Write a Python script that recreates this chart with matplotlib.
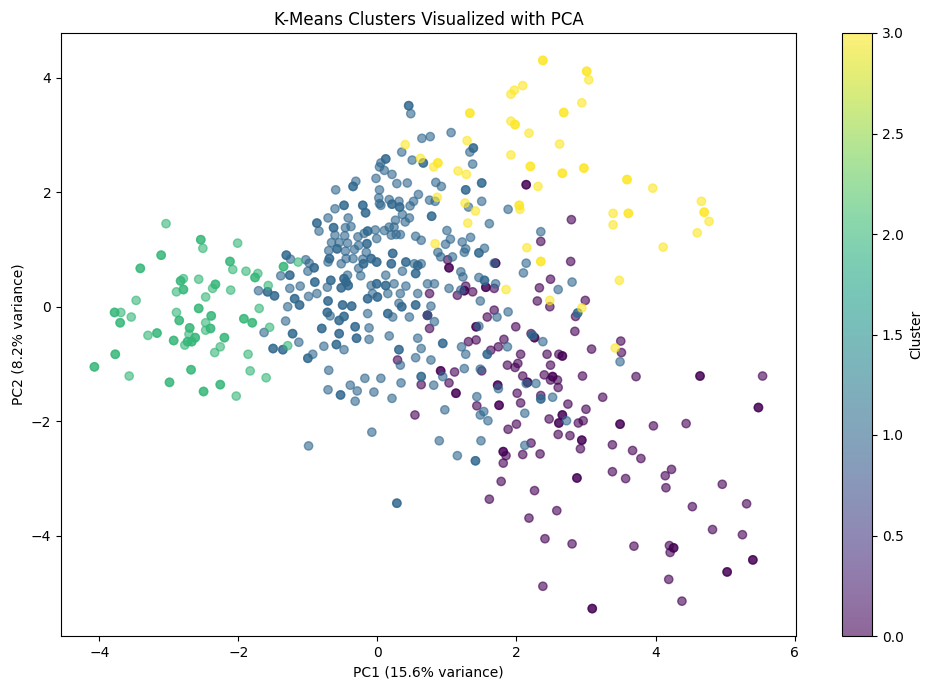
import numpy as np
import matplotlib
matplotlib.use("Agg")
import matplotlib.pyplot as plt

# (PC1, PC2, count) — count 2 = two points at (almost) the same spot
cluster0 = [
    (1.01,0.82,1),(1.03,0.68,2),(1.70,0.76,2),(1.56,0.34,2),(1.68,0.32,1),(1.27,0.36,1),(1.25,0.28,2),(1.37,0.26,1),
    (1.15,0.20,1),(1.68,-0.06,1),(1.58,-0.18,1),(1.42,-0.35,2),(1.42,-0.58,1),(1.31,-0.61,1),(1.63,-0.76,1),(1.74,-0.70,1),
    (1.82,-0.57,1),(1.87,-1.02,1),(0.75,0.23,1),(0.72,-0.15,2),(0.75,-0.38,1),(0.29,-0.93,1),(0.91,-1.12,2),(1.11,-1.14,1),
    (1.50,-1.12,1),(0.63,-1.36,1),(1.03,-1.33,1),(1.13,-1.51,2),(1.73,-1.37,2),
    (0.54,-1.89,1),(1.43,-1.73,1),(1.75,-1.72,2),(1.88,-2.14,1),(1.81,-2.53,2),(1.85,-2.60,1),(1.81,-2.73,1),(1.78,-3.05,1),(1.61,-3.36,1),
    (2.14,2.13,2),(2.79,1.52,1),(2.35,1.14,1),
    (2.78,0.79,1),(2.49,0.48,1),(2.33,0.33,1),(2.30,0.10,1),(2.48,0.00,1),(2.99,0.11,1),(2.85,-0.17,1),(1.99,-0.35,1),
    (2.84,-0.43,1),(2.21,-0.47,1),(2.26,-0.54,2),(3.50,-0.60,1),(3.51,-0.80,1),(3.08,-0.74,1),(2.06,-0.83,1),(2.44,-0.83,1),
    (2.61,-0.83,1),(2.66,-0.86,2),(2.49,-1.02,1),(2.02,-0.99,1),(1.98,-1.06,1),(2.09,-1.21,1),(2.40,-1.19,1),(2.52,-1.22,2),
    (2.49,-1.28,1),(2.59,-1.28,1),(2.95,-1.21,1),(3.72,-1.22,1),(2.16,-1.32,2),(2.60,-1.41,1),(2.01,-1.51,1),(2.35,-1.55,1),(3.24,-1.58,1),
    (2.06,-1.68,1),(2.74,-1.70,1),(3.00,-1.79,1),(2.00,-2.05,1),(2.47,-1.96,1),(2.66,-1.89,2),(2.61,-2.03,2),(2.60,-2.23,1),
    (2.77,-2.25,1),(2.89,-2.03,1),(2.96,-1.99,1),(3.49,-2.05,2),(3.97,-2.08,1),(2.94,-2.33,2),(2.92,-2.48,1),(2.21,-2.38,1),
    (2.09,-2.58,1),(2.34,-2.57,1),(3.38,-2.41,1),(3.67,-2.51,1),(3.79,-2.65,1),(2.87,-2.99,2),(3.38,-2.88,1),(3.57,-3.00,1),
    (2.26,-3.21,1),(2.58,-3.56,1),(2.18,-3.69,1),(2.41,-4.05,1),(2.80,-4.14,1),(3.69,-4.18,1),(2.38,-4.88,1),(3.09,-5.27,2),
    (4.64,-1.21,2),(5.54,-1.21,1),
    (5.48,-1.76,2),(4.44,-2.04,1),(4.23,-2.84,1),(4.14,-2.95,1),(4.15,-3.16,1),(4.96,-3.10,1),(4.53,-3.49,1),(5.31,-3.44,1),
    (4.82,-3.89,1),(5.25,-3.98,1),(4.20,-4.17,1),(4.26,-4.21,2),(4.21,-4.29,1),(5.40,-4.42,2),(5.03,-4.63,2),(4.19,-4.76,1),(4.38,-5.14,1),
]

cluster1 = [
    (-0.31,2.19,1),(-0.35,2.10,2),(-0.60,2.04,1),(0.03,2.44,1),(-0.02,2.24,1),(0.03,2.04,1),(0.02,1.90,1),(-0.48,1.77,2),
    (-0.21,1.77,2),(-0.17,1.64,2),(0.03,1.80,1),(-0.61,1.71,1),(-0.42,1.55,1),(-0.71,1.55,1),(-0.87,1.46,2),(-0.84,1.32,1),
    (-0.63,1.38,2),(-0.46,1.38,1),(-0.38,1.40,1),(-0.14,1.32,2),(-0.03,1.34,1),(-0.19,1.28,1),(-0.47,1.24,1),(-0.61,1.25,1),
    (-0.28,1.22,1),(-0.01,1.19,1),(-0.66,1.12,1),(-0.55,1.12,1),(-0.43,1.11,1),(-0.27,1.07,1),(-0.15,1.10,2),(-0.58,1.01,2),
    (-0.70,0.98,1),(-0.46,0.97,1),(-0.33,1.00,1),(-0.16,0.95,1),(-1.31,0.90,2),(-1.25,0.83,1),(-1.03,0.82,1),(-0.98,0.76,1),
    (-0.69,0.84,2),(-0.71,0.78,1),(-0.45,0.84,1),(-0.35,0.84,1),(-0.21,0.83,1),(-0.09,0.84,2),(-0.01,0.78,2),(-0.52,0.75,1),
    (-0.20,0.75,2),(-0.91,0.68,2),(-1.00,0.62,1),(-0.27,0.67,1),(-1.26,0.55,2),(-1.39,0.54,1),(-0.67,0.46,2),(-0.48,0.49,2),
    (-0.43,0.55,1),(-0.45,0.43,2),(-0.42,0.37,2),(-0.52,0.33,2),(-0.24,0.54,1),(-0.90,0.43,2),(-1.11,0.36,1),(-1.26,0.32,1),
    (-0.72,0.34,1),(-0.87,0.23,1),(-0.99,0.18,1),(-1.71,0.28,1),(-1.58,0.26,2),(-1.48,0.19,2),(-1.19,0.14,2),(-0.09,0.37,1),
    (-0.01,0.40,2),(-0.07,0.23,1),(-0.14,0.14,2),(0.00,0.17,2),
    (-1.29,0.00,1),(-1.12,0.03,2),(-0.71,0.10,2),(-0.50,0.03,2),(-0.37,0.01,2),(-0.72,-0.10,2),(-0.68,-0.16,1),(-0.55,-0.24,2),
    (-0.48,-0.17,2),(-0.14,-0.12,1),(-1.32,-0.25,1),(-1.63,-0.45,1),(-1.22,-0.47,2),(-0.80,-0.38,2),(-0.55,-0.47,2),(-0.32,-0.35,2),
    (-0.12,-0.37,1),(-0.30,-0.55,2),(-0.12,-0.57,1),(-1.50,-0.73,2),(-1.36,-0.75,2),(-1.13,-0.62,1),(-0.77,-0.69,1),(-0.59,-0.66,2),
    (-0.48,-0.75,1),(-1.00,-0.90,2),(-0.93,-0.83,1),(-0.70,-1.11,1),(-0.71,-1.45,1),(-0.53,-1.54,2),(-0.39,-1.37,1),(-0.29,-1.47,1),
    (-0.32,-1.65,1),(-0.18,-1.25,1),(-0.05,-1.49,1),(0.05,-1.25,1),(-0.08,-2.19,1),(-0.99,-2.43,1),
    (0.45,3.51,2),(0.48,3.37,1),(0.64,2.94,1),(0.76,2.97,1),(1.06,3.04,1),(1.38,2.77,2),(1.33,2.70,1),(0.35,2.70,1),
    (0.12,2.58,2),(0.50,2.56,1),(0.66,2.51,2),(1.37,2.49,1),(0.05,2.51,1),(0.10,2.38,1),(0.21,2.31,1),(0.28,2.15,1),
    (0.43,2.16,1),(0.84,2.17,1),(0.92,2.10,1),(1.27,2.04,2),(1.50,2.16,2),(0.59,1.96,1),(0.75,1.86,1),(0.83,1.84,1),
    (0.52,1.84,1),(0.47,1.76,1),(0.17,1.87,1),(0.21,1.79,2),(0.31,1.84,1),(0.32,1.74,2),(0.05,1.77,1),(1.31,1.74,1),
    (1.50,1.84,1),(1.88,1.70,1),(0.78,1.58,2),(0.36,1.61,1),(0.40,1.48,1),(0.46,1.55,1),(0.26,1.51,1),(0.17,1.39,1),
    (0.24,1.39,1),(0.10,1.33,1),(0.20,1.25,1),(0.27,1.26,1),(0.33,1.26,1),(1.61,1.45,1),(1.00,1.33,1),(1.05,1.18,1),
    (0.55,1.23,1),(0.63,1.16,1),(0.98,1.09,1),(1.22,1.13,1),(1.34,1.21,1),(1.27,1.01,1),(1.54,1.02,1),
    (0.22,0.93,2),(0.20,0.75,2),(0.41,0.78,2),(0.53,0.75,1),(0.58,0.72,2),(0.63,0.75,1),(0.55,0.58,2),(0.36,0.62,1),
    (0.87,0.95,1),(0.91,0.87,1),(1.08,0.87,1),(1.25,0.95,1),(1.46,0.94,2),(1.68,0.76,1),(1.20,0.61,1),(1.23,0.52,1),
    (1.46,0.51,1),(1.54,0.46,2),(1.70,0.40,1),(1.20,0.29,1),(1.03,0.32,1),(1.48,0.10,1),(1.88,-0.09,1),(1.72,-0.18,1),
    (1.46,-0.34,1),(1.21,-0.70,1),(1.27,-0.83,1),(1.58,-0.83,2),(1.87,-0.70,1),(0.12,0.55,1),(0.12,0.37,2),(0.15,0.23,1),
    (0.24,0.40,1),(0.33,0.23,1),(0.41,0.36,1),(0.58,0.23,1),(0.72,0.40,1),(0.82,0.40,1),(0.55,0.03,2),(0.35,0.00,2),
    (0.31,0.06,1),(0.15,-0.12,2),(0.22,-0.18,1),(0.46,-0.18,1),(0.77,0.01,1),(0.72,-0.15,1),(0.82,-0.26,1),(0.17,-0.51,1),
    (0.58,-0.55,1),(0.94,-0.64,2),(0.63,-0.73,1),(0.31,-0.75,2),(0.55,-0.89,1),(0.77,-0.93,1),(0.33,-1.02,1),(0.94,-1.22,1),
    (1.25,-1.08,1),(1.48,-1.09,1),(0.63,-1.22,2),(0.81,-1.37,1),(1.43,-1.57,1),(1.74,-1.43,1),(0.34,-1.33,1),(0.21,-1.60,1),
    (0.97,-1.80,1),(1.53,-1.83,1),(1.48,-1.89,1),(1.59,-1.99,1),(0.89,-2.34,1),(1.49,-2.34,1),(1.15,-2.60,1),(1.41,-2.69,2),
    (0.28,-3.43,2),
    (2.35,1.31,1),
    (2.14,0.76,1),(2.10,0.59,1),(2.80,0.43,1),(2.60,0.30,1),(2.88,-0.11,2),(2.23,-0.50,2),(2.38,-0.61,1),(3.49,-0.96,1),
    (2.14,-1.34,1),(2.28,-1.34,1),(2.35,-1.61,2),(2.52,-1.58,1),
    (2.12,-1.86,1),(2.72,-1.99,1),(2.12,-2.42,1),
]

cluster2 = [
    (-3.04,1.45,1),(-2.54,1.17,2),(-2.51,1.02,1),(-2.01,1.11,1),(-3.11,0.90,2),(-3.41,0.67,2),(-2.12,0.79,2),(-2.08,0.65,1),
    (-1.89,0.62,1),(-1.72,0.58,1),(-1.76,0.51,2),(-2.79,0.49,1),(-2.83,0.45,2),(-2.57,0.48,1),(-2.33,0.39,2),(-2.37,0.32,1),
    (-2.79,0.30,2),(-2.89,0.26,1),(-2.11,0.29,1),(-2.47,0.17,1),(-3.47,0.11,1),(-2.57,-0.03,2),(-3.78,-0.10,2),(-3.69,-0.10,1),
    (-2.89,-0.10,1),(-1.70,-0.03,1),(-2.39,-0.16,2),(-3.54,-0.18,1),(-2.85,-0.24,2),(-1.92,-0.21,2),(-1.80,-0.28,2),(-3.70,-0.28,2),
    (-2.70,-0.37,2),(-2.47,-0.28,1),(-2.40,-0.38,2),(-2.47,-0.41,1),(-3.17,-0.46,2),(-3.30,-0.50,1),(-2.71,-0.48,1),(-2.93,-0.59,2),
    (-2.62,-0.54,2),(-2.67,-0.61,2),(-2.73,-0.61,2),(-2.77,-0.67,1),(-2.20,-0.54,2),(-2.26,-0.70,1),(-2.34,-0.80,1),(-1.86,-0.83,1),
    (-3.77,-0.83,2),(-4.07,-1.05,2),(-3.57,-1.21,1),(-2.68,-1.10,2),(-1.83,-1.12,1),(-2.99,-1.32,2),(-2.50,-1.48,2),(-2.26,-1.36,2),
    (-2.03,-1.56,1),(-1.57,0.37,1),(-1.35,0.70,2),(-1.14,0.78,1),(-1.55,-0.36,1),(-1.29,-0.68,1),(-1.60,-1.24,1),
]

cluster3 = [
    (1.33,3.38,2),(0.40,2.83,1),(1.29,2.90,1),(0.62,2.59,1),(0.87,2.51,2),(0.81,2.44,1),(1.16,2.37,1),(1.28,2.31,1),
    (0.86,1.91,1),(1.26,1.81,1),(1.41,1.67,1),(1.30,1.46,1),(0.83,1.10,1),(1.85,0.30,1),
    (2.38,4.30,2),(3.01,4.11,2),(3.04,3.96,1),(2.09,3.86,1),(1.97,3.78,1),(1.92,3.71,1),(2.94,3.56,1),(2.68,3.39,2),
    (1.98,3.18,2),(1.92,3.24,1),(2.18,3.03,1),(2.62,2.84,1),(1.92,2.65,1),(2.20,2.45,2),(2.66,2.33,2),(2.97,2.42,2),
    (3.59,2.22,2),(3.96,2.07,1),(2.31,2.10,1),(2.04,1.77,2),(2.05,1.70,1),(3.39,1.63,1),(3.61,1.63,2),(3.39,1.43,1),
    (2.15,1.03,1),(4.11,1.04,1),
    (2.35,0.79,2),(3.48,0.46,1),(2.48,0.11,1),(2.94,-0.02,1),(3.42,-0.72,1),
    (4.66,1.84,1),(4.70,1.65,2),(4.77,1.49,1),(4.60,1.29,1),
]

clusters = [cluster0, cluster1, cluster2, cluster3]

pc1, pc2, labels = [], [], []
for lab, pts in enumerate(clusters):
    for x, y, n in pts:
        for _ in range(n):
            pc1.append(x)
            pc2.append(y)
            labels.append(lab)
pc1 = np.array(pc1)
pc2 = np.array(pc2)
labels = np.array(labels)

fig = plt.figure(figsize=(9.33, 6.9), dpi=100)
ax = fig.add_axes([61/933, 54/690, 735/933, 603/690])
cax = fig.add_axes([842/933, 54/690, 30/933, 603/690])

sc = ax.scatter(pc1, pc2, c=labels, cmap='viridis', alpha=0.6)
ax.set_title('K-Means Clusters Visualized with PCA')
ax.set_xlabel('PC1 (15.6% variance)')
ax.set_ylabel('PC2 (8.2% variance)')
cb = fig.colorbar(sc, cax=cax)
cb.set_label('Cluster')

fig.savefig('out.png', dpi=100)
